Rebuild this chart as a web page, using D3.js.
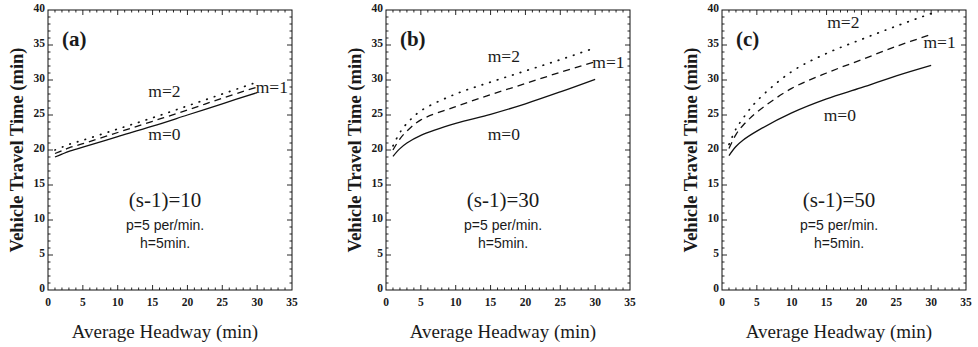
<!DOCTYPE html>
<html>
<head>
<meta charset="utf-8">
<title>Vehicle Travel Time vs Average Headway</title>
<style>
  body { margin: 0; background: #fff; }
  svg { display: block; }
  text { fill: #1a1a1a; }
  .tick-label { font-family: "Liberation Serif", "Times New Roman", serif; font-size: 11.5px; font-weight: bold; }
  .y-title { font-family: "Liberation Serif", serif; font-size: 18.5px; font-weight: bold; }
  .x-title { font-family: "Liberation Serif", serif; font-size: 19px; }
  .tag { font-family: "Liberation Serif", serif; font-size: 21px; font-weight: bold; }
  .mlab { font-family: "Liberation Serif", serif; font-size: 17.5px; }
  .slab { font-family: "Liberation Serif", serif; font-size: 21px; }
  .note { font-family: "Liberation Sans Narrow", "Liberation Sans", sans-serif; font-size: 14px; }
</style>
</head>
<body>
<script src="https://d3js.org/d3.v7.min.js"></script>
<script>
// ---------- data ----------
var headway = [1, 2, 3, 5, 10, 15, 20, 25, 30];

var panelNames = ["(a)", "(b)", "(c)"];
var sMinus1 = [10, 30, 50];

// panel (a): (s-1)=10
var a_m0 = [19.0, 19.4, 19.8, 20.4, 21.9, 23.4, 25.0, 26.6, 28.2];
var a_m1 = [19.5, 19.9, 20.3, 20.9, 22.5, 24.1, 25.7, 27.4, 29.0];
var a_m2 = [20.0, 20.4, 20.8, 21.4, 23.0, 24.6, 26.3, 28.0, 29.7];

// panel (b): (s-1)=30
var b_m0 = [19.1, 20.2, 21.0, 22.1, 23.8, 25.1, 26.6, 28.3, 30.1];
var b_m1 = [20.0, 21.6, 22.7, 24.3, 26.2, 27.9, 29.5, 31.1, 32.6];
var b_m2 = [20.6, 22.5, 23.8, 25.6, 28.0, 29.7, 31.3, 32.9, 34.6];

// panel (c): (s-1)=50
var c_m0 = [19.2, 20.5, 21.4, 22.7, 25.3, 27.3, 28.9, 30.6, 32.1];
var c_m1 = [20.2, 22.2, 23.5, 25.4, 28.8, 31.0, 32.9, 34.8, 36.5];
var c_m2 = [20.8, 23.0, 24.5, 27.0, 31.2, 33.8, 35.8, 37.7, 39.5];

var seriesNames = ["m=0", "m=1", "m=2"];
var xTicks = [0, 5, 10, 15, 20, 25, 30, 35];
var yTicks = [0, 5, 10, 15, 20, 25, 30, 35, 40];

var panelData = [[a_m0, a_m1, a_m2], [b_m0, b_m1, b_m2], [c_m0, c_m1, c_m2]];

// label anchors in data units [x, y] for m=0, m=1, m=2
var labelAt = [
  [[16.7, 21.5], [29.8, 28.1], [16.7, 27.6]],
  [[16.9, 21.4], [29.6, 31.7], [16.9, 32.6]],
  [[16.9, 24.1], [28.9, 34.6], [17.4, 37.5]]
];

// ---------- layout ----------
var W = 978, H = 347;
var plotLefts = [48, 386, 722];
var plotTop = 10, plotW = 244, plotH = 280;
var dashes = [null, "7,5", "0.6,7.4"];

var svg = d3.select("body").append("svg")
    .attr("width", W)
    .attr("height", H);

panelData.forEach(function(series, p) {
    var g = svg.append("g")
        .attr("transform", "translate(" + plotLefts[p] + "," + plotTop + ")");

    var x = d3.scaleLinear().domain([0, 35]).range([0, plotW]);
    var y = d3.scaleLinear().domain([0, 40]).range([plotH, 0]);

    // frame
    g.append("rect")
        .attr("width", plotW).attr("height", plotH)
        .attr("fill", "none").attr("stroke", "#111").attr("stroke-width", 1);

    // inward ticks on all four sides, minor every 1
    var minorX = d3.range(1, 35), minorY = d3.range(1, 40);
    function tickLen(v) { return v % 5 === 0 ? 5 : 2.5; }

    var tk = g.append("g").attr("stroke", "#111").attr("stroke-width", 0.9);
    minorX.forEach(function(v) {
        tk.append("line").attr("x1", x(v)).attr("x2", x(v)).attr("y1", plotH).attr("y2", plotH - tickLen(v));
        tk.append("line").attr("x1", x(v)).attr("x2", x(v)).attr("y1", 0).attr("y2", tickLen(v));
    });
    minorY.forEach(function(v) {
        tk.append("line").attr("y1", y(v)).attr("y2", y(v)).attr("x1", 0).attr("x2", tickLen(v));
        tk.append("line").attr("y1", y(v)).attr("y2", y(v)).attr("x1", plotW).attr("x2", plotW - tickLen(v));
    });

    // tick labels
    g.selectAll(".xl").data(xTicks).enter().append("text")
        .attr("class", "tick-label")
        .attr("x", function(d) { return x(d); })
        .attr("y", plotH + 16)
        .attr("text-anchor", "middle")
        .text(function(d) { return d; });

    g.selectAll(".yl").data(yTicks).enter().append("text")
        .attr("class", "tick-label")
        .attr("x", -3)
        .attr("y", function(d) { return y(d) + 2; })
        .attr("text-anchor", "end")
        .text(function(d) { return d; });

    // axis titles
    g.append("text")
        .attr("class", "y-title")
        .attr("transform", "translate(-25," + (plotH / 2) + ") rotate(-90)")
        .attr("text-anchor", "middle")
        .text("Vehicle Travel Time (min)");

    g.append("text")
        .attr("class", "x-title")
        .attr("x", plotW / 2 - 5)
        .attr("y", plotH + 48)
        .attr("text-anchor", "middle")
        .text("Average Headway (min)");

    // curves
    var line = d3.line()
        .x(function(d) { return x(d[0]); })
        .y(function(d) { return y(d[1]); })
        .curve(d3.curveCatmullRom.alpha(0.5));

    series.forEach(function(vals, s) {
        g.append("path")
            .datum(d3.zip(headway, vals))
            .attr("d", line)
            .attr("fill", "none")
            .attr("stroke", "#111")
            .attr("stroke-width", s === 2 ? 1.7 : 1.3)
            .attr("stroke-linecap", s === 2 ? "round" : "butt")
            .attr("stroke-dasharray", dashes[s]);

        var la = labelAt[p][s];
        g.append("text")
            .attr("class", "mlab")
            .attr("x", x(la[0]))
            .attr("y", y(la[1]))
            .attr("text-anchor", s === 1 ? "start" : "middle")
            .text(seriesNames[s]);
    });

    // panel tag and notes
    g.append("text")
        .attr("class", "tag")
        .attr("x", x(2))
        .attr("y", y(34.9))
        .text(panelNames[p]);

    g.append("text")
        .attr("class", "slab")
        .attr("x", x(16.8))
        .attr("y", 197)
        .attr("text-anchor", "middle")
        .text("(s-1)=" + sMinus1[p]);

    g.append("text")
        .attr("class", "note")
        .attr("x", x(16.8))
        .attr("y", 220)
        .attr("text-anchor", "middle")
        .text("p=5 per/min.");

    g.append("text")
        .attr("class", "note")
        .attr("x", x(16.8))
        .attr("y", 238)
        .attr("text-anchor", "middle")
        .text("h=5min.");
});
</script>
</body>
</html>
